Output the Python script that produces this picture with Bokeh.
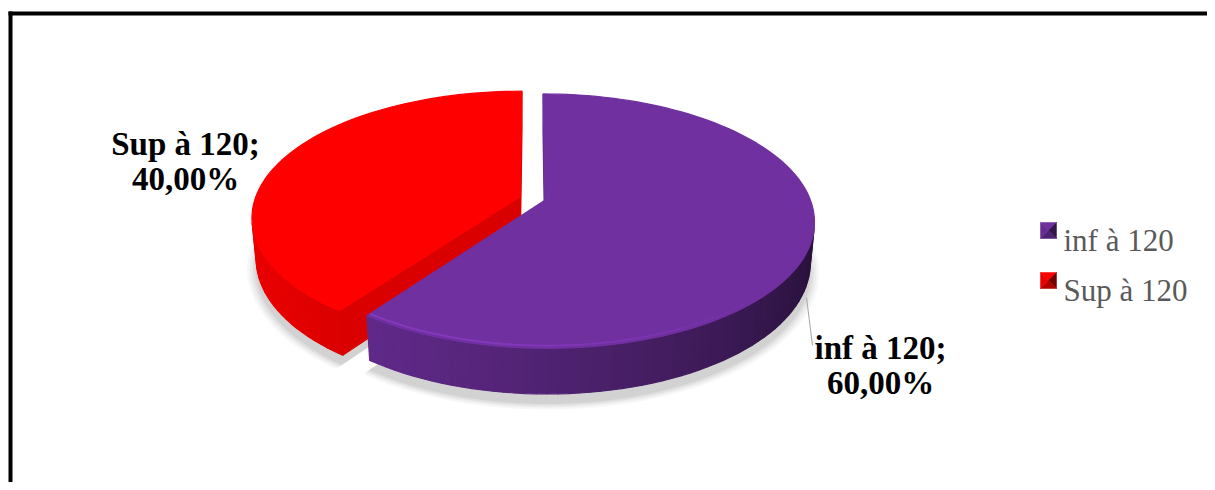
import math
from bokeh.plotting import figure
from bokeh.models import Range1d
from bokeh.core.properties import value
from bokeh.embed import file_html
from bokeh.resources import INLINE

# ---------------- data ----------------
categories = ["inf à 120", "Sup à 120"]
values = [60.0, 40.0]
colors = ["#7030A0", "#FF0000"]

# ---------------- style / geometry constants ----------------
CX0, CY0 = 532.0, 198.0          # screen position of pie origin
D = 5.44                          # camera distance (perspective)
F = 265.0 * D                     # focal scale
PHI = math.radians(27.7)          # elevation
SP, CP = math.sin(PHI), math.cos(PHI)
H = 0.175                         # pie thickness
EXPLODE = 0.049
CAM = (0.0, -D * CP, D * SP)
LIGHT = (math.sin(math.radians(250)), math.cos(math.radians(250)))


def proj(X, Y, Z):
    v = Y * SP + Z * CP
    w = Y * CP - Z * SP
    k = F / (D + w)
    return CX0 + X * k, CY0 - v * k


def hexc(rgb):
    return "#%02x%02x%02x" % tuple(max(0, min(255, int(round(c)))) for c in rgb)


def rgb_of(h):
    h = h.lstrip("#")
    return tuple(int(h[i:i + 2], 16) for i in (0, 2, 4))


def scale(rgb, f):
    return tuple(c * f for c in rgb)


def visible(poly, n):
    px = sum(p[0] for p in poly) / len(poly)
    py = sum(p[1] for p in poly) / len(poly)
    pz = sum(p[2] for p in poly) / len(poly)
    return n[0] * (CAM[0] - px) + n[1] * (CAM[1] - py) + n[2] * (CAM[2] - pz) > 0


total = sum(values)
slices = []
start = 0.0
for cat, val, col in zip(categories, values, colors):
    sweep = 360.0 * val / total
    a0, a1 = start, start + sweep
    am = math.radians((a0 + a1) / 2)
    slices.append(dict(cat=cat, val=val, col=col, a0=a0, a1=a1,
                       ox=EXPLODE * math.sin(am), oy=EXPLODE * math.cos(am)))
    start = a1

p = figure(width=1207, height=482, x_range=Range1d(0, 1207), y_range=Range1d(482, 0),
           output_backend="svg", toolbar_location=None, min_border=0,
           x_axis_type=None, y_axis_type=None)
p.grid.visible = False
p.outline_line_color = None
p.background_fill_color = "white"
p.border_fill_color = "white"

# chart frame (left and top edges visible in the crop)
p.segment(x0=[10, 8], y0=[11, 13], x1=[10, 1207], y1=[482, 13],
          line_color="black", line_width=4, line_cap="butt")

# soft shadow under the pie
for sc, al in [(1.035, 0.03), (1.025, 0.04), (1.015, 0.05), (1.005, 0.06)]:
    for sl in slices:
        ths = [math.radians(t) for t in range(int(sl["a0"]), int(sl["a1"]) + 1, 2)]
        pts = [(sl["ox"], sl["oy"], -H - 0.02)] + [
            (sl["ox"] + sc * math.sin(t), sl["oy"] + sc * math.cos(t), -H - 0.02) for t in ths]
        sp = [proj(*q) for q in pts]
        p.patch(x=[q[0] for q in sp], y=[q[1] + 4 for q in sp], fill_color="#000000",
                fill_alpha=al, line_color=None)

# draw slices, farthest first
for sl in sorted(slices, key=lambda s: -s["oy"]):
    base = rgb_of(sl["col"])
    ox, oy = sl["ox"], sl["oy"]
    a0, a1 = sl["a0"], sl["a1"]
    n_steps = max(2, int((a1 - a0) / 2))
    ths = [math.radians(a0 + (a1 - a0) * i / n_steps) for i in range(n_steps + 1)]
    faces = []
    # outer side quads
    for i in range(n_steps):
        t0, t1 = ths[i], ths[i + 1]
        tm = (t0 + t1) / 2
        n = (math.sin(tm), math.cos(tm), 0.0)
        quad = [(ox + math.sin(t0), oy + math.cos(t0), 0.0),
                (ox + math.sin(t1), oy + math.cos(t1), 0.0),
                (ox + math.sin(t1), oy + math.cos(t1), -H),
                (ox + math.sin(t0), oy + math.cos(t0), -H)]
        if visible(quad, n):
            f = 0.61 + 0.30 * (n[0] * LIGHT[0] + n[1] * LIGHT[1])
            faces.append((math.cos(tm), quad, hexc(scale(base, f))))
    faces.sort(key=lambda x: -x[0])
    faces = [(q, c) for _, q, c in faces]
    # cut faces
    for ang, n in [(math.radians(a0), (-math.cos(math.radians(a0)), math.sin(math.radians(a0)), 0.0)),
                   (math.radians(a1), (math.cos(math.radians(a1)), -math.sin(math.radians(a1)), 0.0))]:
        quad = [(ox, oy, 0.0), (ox + math.sin(ang), oy + math.cos(ang), 0.0),
                (ox + math.sin(ang), oy + math.cos(ang), -H), (ox, oy, -H)]
        if visible(quad, n):
            faces.append((quad, hexc(scale(base, 0.86))))
    # top face
    top = [(ox, oy, 0.0)] + [(ox + math.sin(t), oy + math.cos(t), 0.0) for t in ths]
    faces.append((top, sl["col"]))
    xs, ys, cs = [], [], []
    for poly, c in faces:
        sp = [proj(*q) for q in poly]
        xs.append([q[0] for q in sp])
        ys.append([q[1] for q in sp])
        cs.append(c)
    p.patches(xs=xs, ys=ys, fill_color=cs, line_color=cs, line_width=1.2)
    # bevel highlight on front top rim
    seg_x, seg_y, seg_a = [], [], []
    for i in range(n_steps):
        tm = math.degrees((ths[i] + ths[i + 1]) / 2)
        if 120 < tm < 235:
            q0 = proj(ox + 0.985 * math.sin(ths[i]), oy + 0.985 * math.cos(ths[i]), 0.0)
            q1 = proj(ox + 0.985 * math.sin(ths[i + 1]), oy + 0.985 * math.cos(ths[i + 1]), 0.0)
            seg_x.append([q0[0], q1[0]])
            seg_y.append([q0[1], q1[1]])
            seg_a.append(max(0.0, min(0.5, (tm - 130) / 120)))
    if seg_x:
        p.multi_line(xs=seg_x, ys=seg_y, line_color=hexc(scale(base, 1.35)),
                     line_alpha=seg_a, line_width=2)

# data labels
LABEL_POS = {"inf à 120": (880, 347), "Sup à 120": (185, 143)}
for sl in slices:
    lx, ly = LABEL_POS[sl["cat"]]
    pct = ("%.2f%%" % (100.0 * sl["val"] / total)).replace(".", ",")
    p.text(x=[lx, lx], y=[ly, ly + 35], text=[sl["cat"] + ";", pct],
           text_font=value("Liberation Serif"), text_font_style="bold",
           text_font_size="33px", text_color="black",
           text_align="center", text_baseline="alphabetic")

# leader line for the purple slice
p.line(x=[806, 812], y=[297, 345], line_color="#a6a6a6", line_width=1)

# legend
LEG_X, LEG_Y0, LEG_DY, SQ = 1040, 230, 50, 16
for i, (cat, col) in enumerate(zip(categories, colors)):
    cy = LEG_Y0 + i * LEG_DY
    x0, x1, y0, y1 = LEG_X, LEG_X + SQ, cy - SQ / 2, cy + SQ / 2
    xc, yc = (x0 + x1) / 2, (y0 + y1) / 2
    b = rgb_of(col)
    tris_x = [[x0, x1, xc], [x1, x1, xc], [x1, x0, xc], [x0, x0, xc]]
    tris_y = [[y0, y0, yc], [y0, y1, yc], [y1, y1, yc], [y1, y0, yc]]
    tc = [hexc(scale(b, 1.0)), hexc(scale(b, 0.45)), hexc(scale(b, 0.7)), hexc(scale(b, 0.92))]
    p.patches(xs=tris_x, ys=tris_y, fill_color=tc, line_color=tc, line_width=0.5)
    p.text(x=[LEG_X + SQ + 7], y=[cy + 10], text=[cat],
           text_font=value("Liberation Serif"), text_font_size="31px",
           text_color="#595959", text_align="left", text_baseline="alphabetic")

open("out.html", "w").write(file_html(p, INLINE))
